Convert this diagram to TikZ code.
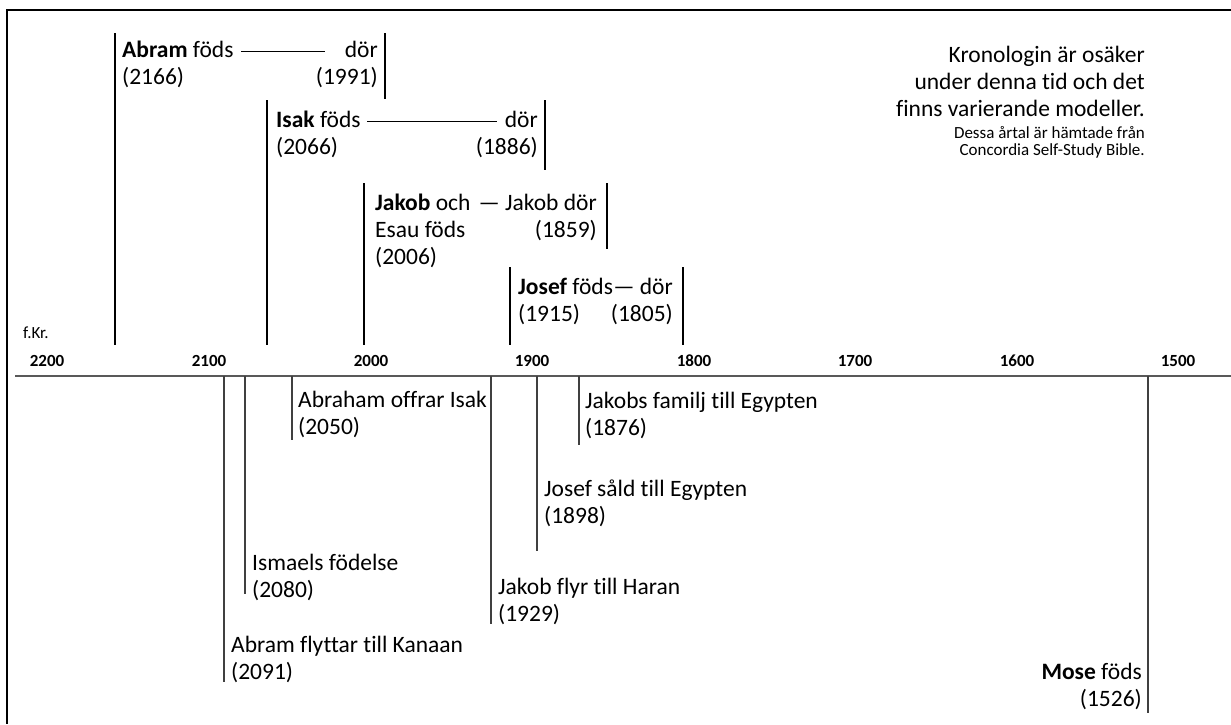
\documentclass[tikz,border=0pt]{standalone}
\usepackage{fontspec}
\setmainfont{Carlito}[Ligatures=NoCommon]
\usetikzlibrary{calc}

\begin{document}
\begin{tikzpicture}[x=1pt, y=-1pt,
    txt/.style={inner sep=0pt, align=left, anchor=west, font=\fontsize{23.5}{27}\selectfont},
    rtxt/.style={inner sep=0pt, align=right, anchor=east, font=\fontsize{23.5}{27}\selectfont},
    yr/.style={inner sep=0pt, font=\fontsize{17}{19}\selectfont\bfseries},
    life/.style={line width=2.3pt},
    event/.style={line width=1.1pt, black!75},
    span/.style={line width=1pt}]
    \useasboundingbox (0,0) rectangle (1231,724);

    % frame (top and left only)
    \coordinate (fTR) at (1231,10);
    \coordinate (fTL) at (7,10);
    \coordinate (fBL) at (7,724);
    \draw[line width=2.6pt] (fTR) -- (fTL) -- (fBL);

    % axis
    \coordinate (axL) at (15,376);
    \coordinate (axR) at (1231,376);
    \draw[line width=1.6pt, black!65] (axL) -- (axR);
    \node[inner sep=0pt, anchor=west, font=\fontsize{17}{19}\selectfont] (fkr) at (23,333) {f.Kr.};
    \node[yr] (y2200) at (47,361) {2200};
    \node[yr] (y2100) at (209,361) {2100};
    \node[yr] (y2000) at (371,361) {2000};
    \node[yr] (y1900) at (532,361) {1900};
    \node[yr] (y1800) at (694,361) {1800};
    \node[yr] (y1700) at (855,361) {1700};
    \node[yr] (y1600) at (1017,361) {1600};
    \node[yr] (y1500) at (1178,361) {1500};

    % lives above the axis
    \node[txt] (abramB) at (122,64) {\textbf{Abram} föds\\(2166)};
    \node[rtxt] (abramD) at (378,64) {dör\\(1991)};
    \coordinate (abram1) at (115,33);
    \coordinate (abram2) at (115,345);
    \coordinate (abram3) at (385,33);
    \coordinate (abram4) at (385,99);
    \coordinate (abramS) at (241,51);
    \coordinate (abramE) at (325,51);
    \draw[life] (abram1) -- (abram2);
    \draw[life] (abram3) -- (abram4);
    \draw[span] (abramS) -- (abramE);

    \node[txt] (isakB) at (276,134) {\textbf{Isak} föds\\(2066)};
    \node[rtxt] (isakD) at (538,134) {dör\\(1886)};
    \coordinate (isak1) at (267,100);
    \coordinate (isak2) at (267,345);
    \coordinate (isak3) at (545,100);
    \coordinate (isak4) at (545,170);
    \coordinate (isakS) at (367,121);
    \coordinate (isakE) at (497,121);
    \draw[life] (isak1) -- (isak2);
    \draw[life] (isak3) -- (isak4);
    \draw[span] (isakS) -- (isakE);

    \node[txt] (jakobB) at (375,231) {\textbf{Jakob} och\\Esau föds\\(2006)};
    \node[rtxt] (jakobD) at (597,217) {— Jakob dör\\(1859)};
    \coordinate (jakob1) at (364,183);
    \coordinate (jakob2) at (364,345);
    \coordinate (jakob3) at (607,183);
    \coordinate (jakob4) at (607,249);
    \draw[life] (jakob1) -- (jakob2);
    \draw[life] (jakob3) -- (jakob4);

    \node[txt] (josefB) at (518,301) {\textbf{Josef} föds\\(1915)};
    \node[rtxt] (josefD) at (673,301) {— dör\\(1805)};
    \coordinate (josef1) at (510,267);
    \coordinate (josef2) at (510,345);
    \coordinate (josef3) at (683,267);
    \coordinate (josef4) at (683,345);
    \draw[life] (josef1) -- (josef2);
    \draw[life] (josef3) -- (josef4);

    % events below the axis
    \node[txt] (kanaan) at (231,659) {Abram flyttar till Kanaan\\(2091)};
    \node[txt] (ismael) at (252,577) {Ismaels födelse\\(2080)};
    \node[txt] (offer) at (298,414) {Abraham offrar Isak\\(2050)};
    \node[txt] (haran) at (498,601) {Jakob flyr till Haran\\(1929)};
    \node[txt] (sald) at (544,503) {Josef såld till Egypten\\(1898)};
    \node[txt] (familj) at (585,415) {Jakobs familj till Egypten\\(1876)};
    \node[rtxt] (mose) at (1142,686) {\textbf{Mose} föds\\(1526)};
    \coordinate (kanaanT) at (224,376);
    \coordinate (kanaanB) at (224,682);
    \coordinate (ismaelT) at (245,376);
    \coordinate (ismaelB) at (245,594);
    \coordinate (offerT) at (292,376);
    \coordinate (offerB) at (292,440);
    \coordinate (haranT) at (491,376);
    \coordinate (haranB) at (491,624);
    \coordinate (saldT) at (537,376);
    \coordinate (saldB) at (537,551);
    \coordinate (familjT) at (579,376);
    \coordinate (familjB) at (579,445);
    \coordinate (moseT) at (1148,376);
    \coordinate (moseB) at (1148,713);
    \draw[event] (kanaanT) -- (kanaanB);
    \draw[event] (ismaelT) -- (ismaelB);
    \draw[event] (offerT) -- (offerB);
    \draw[event] (haranT) -- (haranB);
    \draw[event] (saldT) -- (saldB);
    \draw[event] (familjT) -- (familjB);
    \draw[event] (moseT) -- (moseB);

    % note
    \node[rtxt] (note) at (1145,81) {Kronologin är osäker\\under denna tid och det\\finns varierande modeller.};
    \node[rtxt, font=\fontsize{17}{17}\selectfont] (source) at (1145,142) {Dessa årtal är hämtade från\\Concordia Self-Study Bible.};
\end{tikzpicture}
\end{document}
